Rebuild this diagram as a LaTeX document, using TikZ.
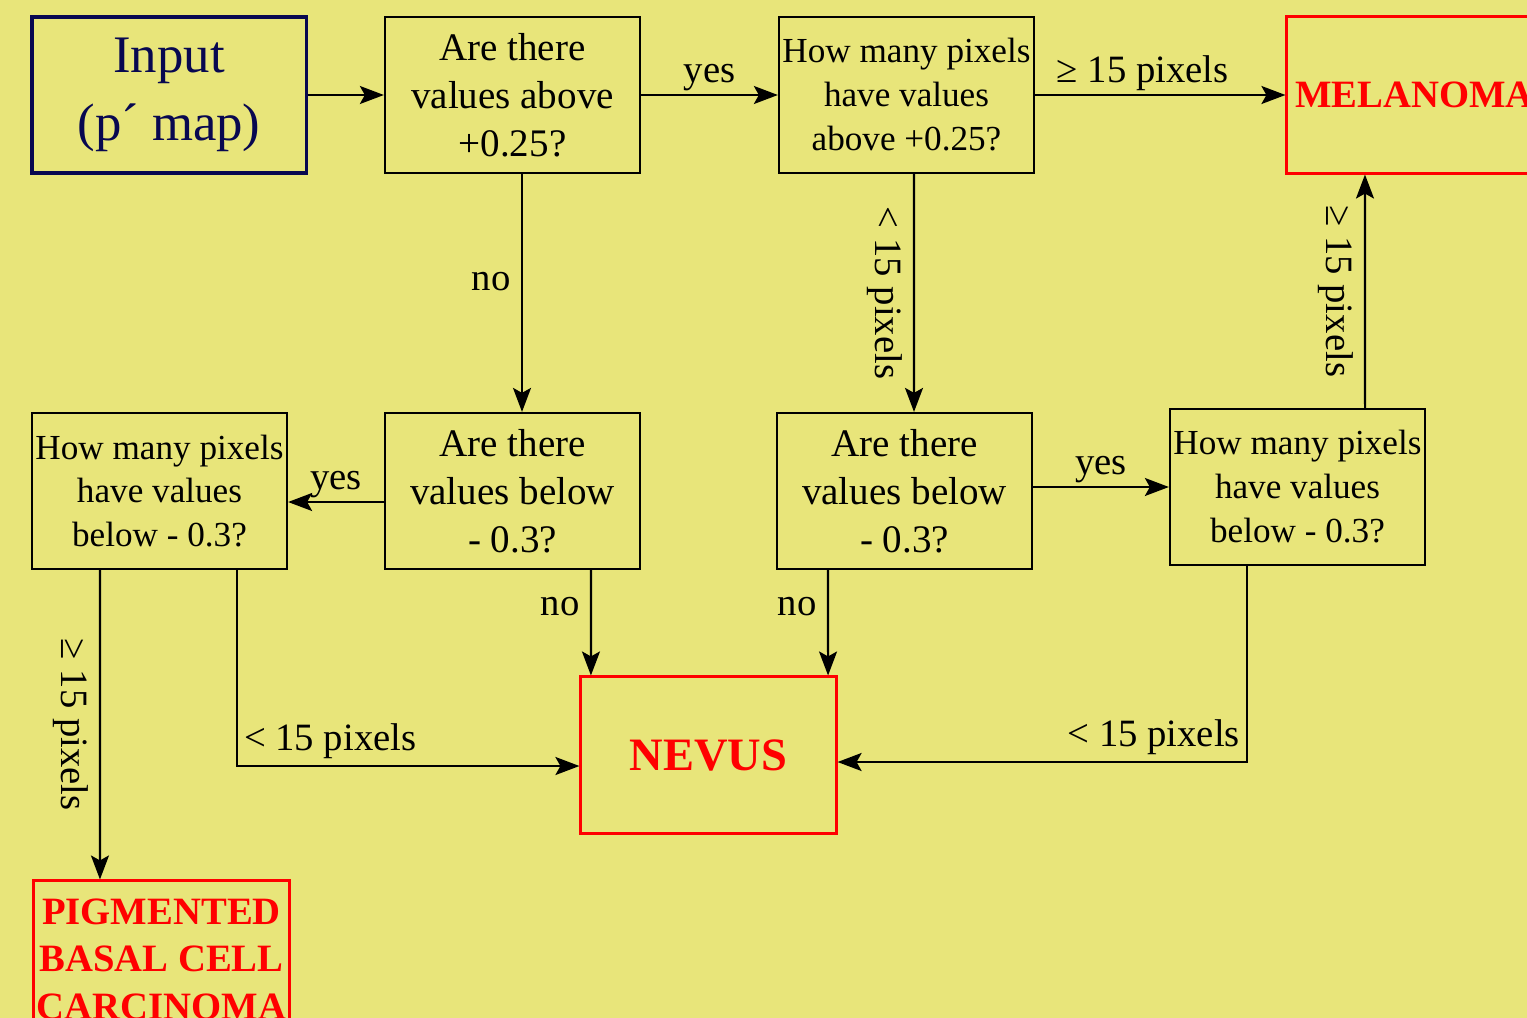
\documentclass[tikz,border=0pt]{standalone}
\usepackage{fontspec}
\setmainfont{Liberation Serif}
\usepackage{tikz}
\usetikzlibrary{positioning}
\usetikzlibrary{arrows.meta}
\definecolor{mybg}{RGB}{232,229,122}
\definecolor{myred}{RGB}{255,0,0}
\definecolor{mynavy}{RGB}{8,8,80}

\tikzset{
	qtext/.style={font=\fontsize{11.1}{13.7}\selectfont},
	htext/.style={font=\fontsize{10}{12.5}\selectfont},
	outcome/.style={draw=myred, text=myred, line width=0.85pt, font=\fontsize{11}{13.5}\selectfont\bfseries},
	lbl/.style={font=\fontsize{11}{13}\selectfont, inner sep=1pt}
}

\begin{document}
\begin{tikzpicture}[x=0.01cm, y=-0.01cm]
	\useasboundingbox (0,0) rectangle (1527,1018);
	\clip (0,0) rectangle (1527,1018);
	\fill[mybg] (0,0) rectangle (1527,1018);

	\begin{scope}[every node/.style={rectangle, draw=black, line width=0.6pt, minimum width=2.55cm, minimum height=1.56cm, inner sep=0pt, align=center}]
		\node (inp) [draw=mynavy, text=mynavy, line width=0.9pt, minimum width=2.74cm, font=\fontsize{15}{19.3}\selectfont] at (169,95) {Input\\(p´ map)};
		\node (q1) [qtext] at (512.5,95) {Are there\\values above\\+0.25?};
		\node (q2) [htext] at (906.5,95) {How many pixels\\have values\\above +0.25?};
		\node (mel) [outcome] at (1414.5,95) {MELANOMA};
		\node (q3) [htext] at (159.5,491) {How many pixels\\have values\\below - 0.3?};
		\node (q4) [qtext] at (512.5,491) {Are there\\values below\\- 0.3?};
		\node (q5) [qtext] at (904.5,491) {Are there\\values below\\- 0.3?};
		\node (q6) [htext] at (1297.5,487) {How many pixels\\have values\\below - 0.3?};
		\node (nevus) [outcome, font=\fontsize{13.2}{16}\selectfont\bfseries] at (708.5,755) {NEVUS};
		\node (pig) [outcome] at (161.5,959) {PIGMENTED\\BASAL CELL\\CARCINOMA};
	\end{scope}

	\begin{scope}[>={Stealth[length=0.24cm, width=0.18cm, inset=0.05cm]},
	              every edge/.style={draw=black, line width=0.6pt}]
		\path [->] (inp) edge (q1);
		\path [->] (q1) edge node (lyes1) [lbl, above] {yes} (q2);
		\path [->] (q2) edge node (lmel1) [lbl, above, pos=0.43] {≥ 15 pixels} (mel);
		\path [->] ([xshift=0.095cm]q1.south) edge node (lno1) [lbl, left=2pt, pos=0.45] {no} ([xshift=0.095cm]q4.north);
		\path [->] ([xshift=0.075cm]q2.south) edge node (lfew1) [lbl, rotate=-90, anchor=north, inner sep=3pt] {< 15 pixels} ([xshift=0.095cm]q5.north);
		\path [->] ([yshift=-0.11cm]q4.west) edge node (lyes2) [lbl, above] {yes} ([yshift=-0.11cm]q3.east);
		\path [->] (q5.east |- q6.west) edge node (lyes3) [lbl, above] {yes} (q6.west);
		\path [->] ([xshift=0.675cm]q6.north) edge node (lmel2) [lbl, rotate=-90, anchor=north, inner sep=3pt] {≥ 15 pixels} ([xshift=-0.495cm]mel.south);
		\path [->] ([xshift=0.785cm]q4.south) edge node (lno2) [lbl, left=2pt, pos=0.35] {no} ([xshift=-1.175cm]nevus.north);
		\path [->] ([xshift=-0.765cm]q5.south) edge node (lno3) [lbl, left=2pt, pos=0.35] {no} ([xshift=1.195cm]nevus.north);
		\path [->] ([xshift=-0.595cm]q3.south) edge node (lpig) [lbl, rotate=-90, anchor=north, inner sep=3pt] {≥ 15 pixels} ([xshift=-0.615cm]pig.north);
		\draw [->, line width=0.6pt] ([xshift=0.775cm]q3.south) |- node (lfew2) [lbl, pos=0.5, above right=1pt] {< 15 pixels} ([yshift=-0.11cm]nevus.west);
		\draw [->, line width=0.6pt] ([xshift=-0.505cm]q6.south) |- node (lfew3) [lbl, pos=0.5, above left=1pt] {< 15 pixels} ([yshift=-0.07cm]nevus.east);
	\end{scope}
\end{tikzpicture}
\end{document}
